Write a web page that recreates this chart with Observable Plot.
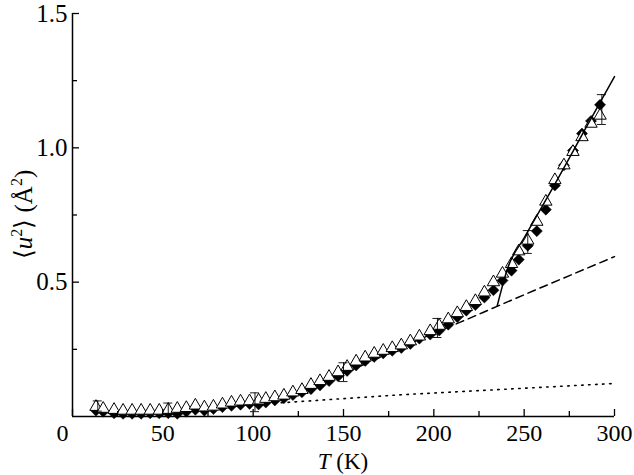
<!DOCTYPE html>
<html><head><meta charset="utf-8">
<script src="https://cdn.jsdelivr.net/npm/d3@7"></script>
<script src="https://cdn.jsdelivr.net/npm/@observablehq/plot@0.6"></script>
<style>body{margin:0;background:#fff} svg{font-family:"Liberation Serif",serif}</style>
</head><body><div id="chart"></div>
<script>
// open triangles
const tOpen = [13,17,23,28,33,38,43,48,53,58,63,68,73,78,83,88,93,98,103,107,112,117,122,127,132,137,142,147,152,157,162,167,172,177,182,187,192,198,203,208,213,218,223,228,233,238,243,247,252,257,262,267,272,277,282,287,292];
const uOpen = [0.036,0.029,0.025,0.022,0.022,0.022,0.022,0.022,0.025,0.029,0.032,0.041,0.034,0.037,0.045,0.052,0.056,0.057,0.06,0.066,0.072,0.078,0.09,0.099,0.118,0.132,0.148,0.165,0.185,0.205,0.22,0.234,0.245,0.255,0.265,0.28,0.298,0.318,0.338,0.362,0.385,0.408,0.43,0.462,0.5,0.532,0.568,0.615,0.655,0.725,0.8,0.88,0.935,0.985,1.04,1.09,1.12];
// filled diamonds
const tFilled = [13,17,23,28,33,38,43,48,53,58,63,68,73,78,83,88,93,98,103,107,112,117,122,127,132,137,142,147,152,157,162,167,172,177,182,187,192,198,203,208,213,218,223,228,233,238,243,247,252,257,262,267,272,277,282,287,292];
const uFilled = [0.022,0.018,0.012,0.01,0.01,0.01,0.012,0.012,0.012,0.01,0.018,0.025,0.022,0.028,0.035,0.04,0.044,0.047,0.045,0.052,0.06,0.068,0.08,0.09,0.102,0.116,0.132,0.15,0.17,0.19,0.207,0.222,0.235,0.245,0.255,0.27,0.29,0.305,0.32,0.342,0.37,0.394,0.415,0.443,0.47,0.506,0.543,0.584,0.636,0.69,0.77,0.86,0.935,0.99,1.053,1.1,1.16];
// error bars
const errT = [14,53,101,150,202,252,293];
const errLo = [0.02,0.008,0.018,0.13,0.294,0.607,1.087];
const errHi = [0.058,0.05,0.088,0.2,0.365,0.692,1.198];
// fitted curves
const solidT = [235,241,250,267,283,300];
const solidU = [0.41,0.555,0.665,0.865,1.06,1.265];
const dashedT = [120,150,180,200,215,235,300];
const dashedU = [0.075,0.16,0.25,0.31,0.352,0.41,0.595];
const dottedT = [100,120,182,300];
const dottedU = [0.045,0.053,0.081,0.123];
// ticks
const xMajor = [0,50,100,150,200,250,300];
const xMinor = [25,75,125,175,225,275];
const xLabels = [50,100,150,200,250,300];
const xZero = [0];
const yMajor = [0.5,1.0,1.5];
const yMinor = [0.25,0.75,1.25];

const W=634,H=475,mt=13,mb=59,ml=72,mr=20;
const fH=H-mt-mb, fW=W-ml-mr;
const open = tOpen.map((t,i)=>({T:t,u:uOpen[i]}));
const filled = tFilled.map((t,i)=>({T:t,u:uFilled[i]}));
const errs = errT.map((t,i)=>({T:t,lo:errLo[i],hi:errHi[i]}));
const toPts = (a,b)=>a.map((t,i)=>({T:t,u:b[i]}));
const capW = 2.5;

const chart = Plot.plot({
  width:W,height:H,marginTop:mt,marginBottom:mb,marginLeft:ml,marginRight:mr,
  style:{fontFamily:"Liberation Serif, serif",fontSize:"24px",background:"white",color:"black"},
  x:{domain:[0,300]}, y:{domain:[0,1.5]},
  marks:[
    Plot.line(toPts(dottedT,dottedU),{x:"T",y:"u",strokeDasharray:"1.5,5.5",strokeWidth:1.6}),
    Plot.line(toPts(dashedT,dashedU),{x:"T",y:"u",strokeDasharray:"8,5",strokeWidth:1.5,curve:"monotone-x"}),
    Plot.dot(filled,{x:"T",y:"u",symbol:"diamond2",r:5,fill:"black",stroke:"black",strokeWidth:0.5}),
    Plot.dot(open,{x:"T",y:"u",symbol:"triangle",r:4.6,fill:"white",stroke:"black",strokeWidth:1}),
    Plot.ruleX(errs,{x:"T",y1:"lo",y2:"hi",strokeWidth:0.9}),
    Plot.ruleY(errs,{y:"lo",x1:d=>d.T-capW,x2:d=>d.T+capW,strokeWidth:0.9}),
    Plot.ruleY(errs,{y:"hi",x1:d=>d.T-capW,x2:d=>d.T+capW,strokeWidth:0.9}),
    Plot.line(toPts(solidT,solidU),{x:"T",y:"u",strokeWidth:1.5,curve:"monotone-x"}),
    Plot.ruleX([0],{strokeWidth:1.5}),
    Plot.ruleY([0],{strokeWidth:1.5}),
    Plot.tickX(xMajor,{x:d=>d,insetTop:fH-7,strokeWidth:1.3}),
    Plot.tickX(xMinor,{x:d=>d,insetTop:fH-5,strokeWidth:1.3}),
    Plot.tickY(yMajor,{y:d=>d,insetRight:fW-7,strokeWidth:1.3}),
    Plot.tickY(yMinor,{y:d=>d,insetRight:fW-5,strokeWidth:1.3}),
    Plot.axisX(xLabels,{tickSize:0,tickPadding:7,fontSize:24,label:null}),
    Plot.text(xZero,{x:d=>d,frameAnchor:"bottom",lineAnchor:"top",dy:7,dx:-10,fontSize:24,text:d=>String(d)}),
    Plot.axisY(yMajor,{tickSize:0,tickPadding:5,fontSize:25,label:null,tickFormat:d3.format(".1f")})
  ]
});
document.getElementById("chart").appendChild(chart);
const svg = d3.select(chart);
// x title
const xt = svg.append("text").attr("x", ml+fW/2).attr("y", 469).attr("text-anchor","middle")
  .attr("font-size",23).attr("font-family","Liberation Serif, serif").attr("fill","black");
xt.append("tspan").attr("font-style","italic").text("T");
xt.append("tspan").text(" (K)");
// y title
const yt = svg.append("text").attr("transform",`translate(32,${mt+fH/2}) rotate(-90)`).attr("text-anchor","middle")
  .attr("font-size",25).attr("font-family","Liberation Serif, serif").attr("fill","black");
yt.append("tspan").text("⟨");
yt.append("tspan").attr("font-style","italic").text("u");
yt.append("tspan").attr("font-size",16).attr("dy",-10).text("2");
yt.append("tspan").attr("dy",10).text("⟩ (Å");
yt.append("tspan").attr("font-size",16).attr("dy",-10).text("2");
yt.append("tspan").attr("dy",10).text(")");
</script></body></html>
